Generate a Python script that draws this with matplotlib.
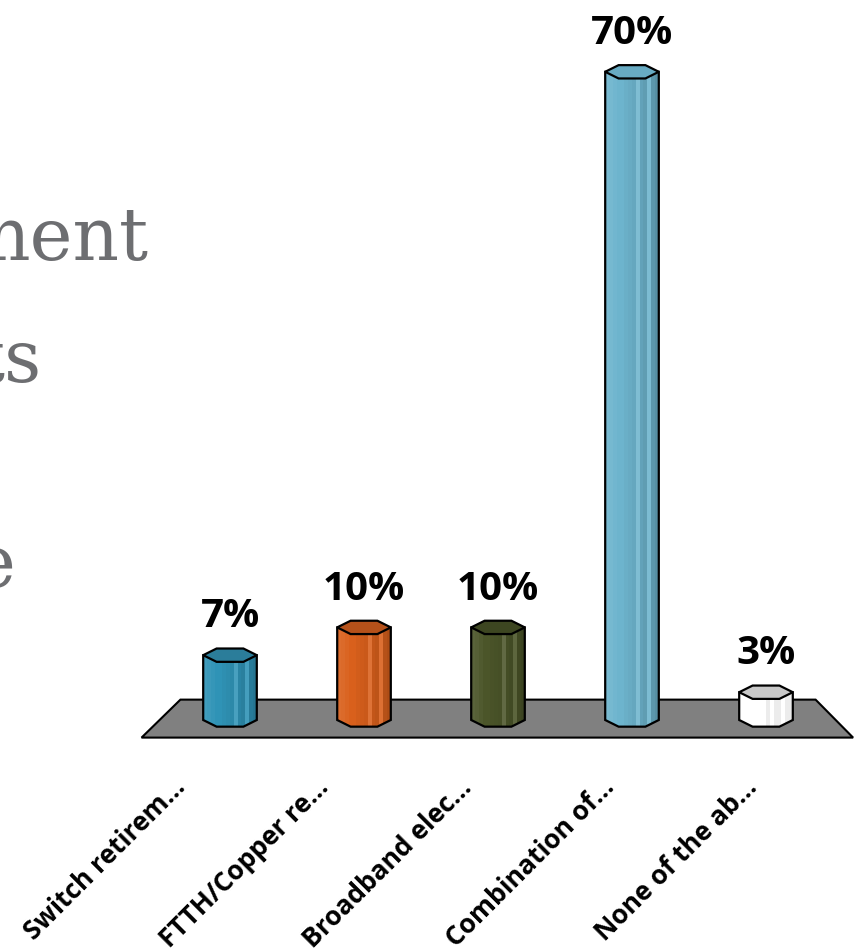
import matplotlib.pyplot as plt
from matplotlib.patches import Polygon, Rectangle
from matplotlib.colors import to_rgb
import numpy as np

# survey answers
categories = ["Switch retirem...", "FTTH/Copper re...", "Broadband elec...",
              "Combination of...", "None of the ab..."]
values = [7, 10, 10, 70, 3]
value_labels = ["7%", "10%", "10%", "70%", "3%"]
side_colors = ["#2f93b6", "#d9601c", "#4b5529", "#6db4cd", "#ffffff"]
top_colors = ["#2b7d9a", "#b5511a", "#3d4621", "#68abc3", "#c8c8c8"]

# slide title peeking in from the left
title_parts = ["ment", "ts", "e"]
title_pos = [(148, 260), (42, 382), (15, 587)]

W, H = 857, 951
fig = plt.figure(figsize=(W / 100, H / 100), dpi=100)
ax = fig.add_axes([0, 0, 1, 1])
ax.set_xlim(-230 / 134, (W - 230) / 134)
ax.set_ylim(-(H - 720) / 9.26, 720 / 9.26)
ax.axis("off")

half_w = 0.2      # cylinder radius, x units
cap_h = 0.72      # half height of the cylinder cap, value units
corner = 0.5      # where the flat part of the cap starts, fraction of radius
persp = 1.065     # front edge of the floor is wider than the back


def shade(color, f):
    r, g, b = to_rgb(color)
    if f >= 1:
        return (r + (1 - r) * (f - 1), g + (1 - g) * (f - 1), b + (1 - b) * (f - 1))
    return (r * f, g * f, b * f)


# grey floor
floor = Polygon([(-0.37, 2.2), (4.37, 2.2), (4.65, -1.9), (-0.66, -1.9)],
                closed=True, facecolor="#808080", edgecolor="black", lw=1.5, zorder=1)
ax.add_patch(floor)

strip_f = [1.08, 1.06, 1.03, 1.0, 1.0, 0.97, 0.95, 0.93, 1.12, 0.9, 0.87, 1.1, 0.84, 0.8]

for i, v in enumerate(values):
    a, b, c = half_w, cap_h, corner
    body_pts = [(i - a, v), (i - a, 0), (i - c * a, -b), (i + c * a, -b),
                (i + a, 0), (i + a, v)]
    body = Polygon(body_pts, closed=True, facecolor="none", edgecolor="none", zorder=2)
    ax.add_patch(body)
    n = len(strip_f)
    edges = np.linspace(i - a, i + a, n + 1)
    for k in range(n):
        col = shade(side_colors[i], strip_f[k])
        if side_colors[i] == "#ffffff":
            col = (1, 1, 1) if strip_f[k] >= 0.95 else "#ececec"
        r = Rectangle((edges[k], -b - 1), edges[k + 1] - edges[k], v + b + 1,
                      facecolor=col, edgecolor="none", zorder=2)
        r.set_clip_path(body)
        ax.add_patch(r)
    ax.add_patch(Polygon(body_pts, closed=True, facecolor="none",
                         edgecolor="black", lw=1.6, zorder=3))
    cap = [(i - a, v), (i - c * a, v + b), (i + c * a, v + b), (i + a, v),
           (i + c * a, v - b), (i - c * a, v - b)]
    ax.add_patch(Polygon(cap, closed=True, facecolor=top_colors[i],
                         edgecolor="black", lw=1.6, zorder=4))
    ax.text(i, v + 3.0, value_labels[i], ha="center", va="baseline",
            fontsize=29, fontweight="bold", family="Open Sans", color="black")
    ax.text(i * persp - 0.32, -7.4, categories[i], rotation=45, rotation_mode="anchor",
            ha="right", va="baseline", fontsize=19, fontweight="bold",
            family="Open Sans", color="black")

for txt, (px, py) in zip(title_parts, title_pos):
    fig.text(px / W, 1 - py / H, txt, ha="right", va="baseline",
             fontsize=52, family="DejaVu Serif", color="#6d6e71")

fig.savefig("out.png", dpi=100)
